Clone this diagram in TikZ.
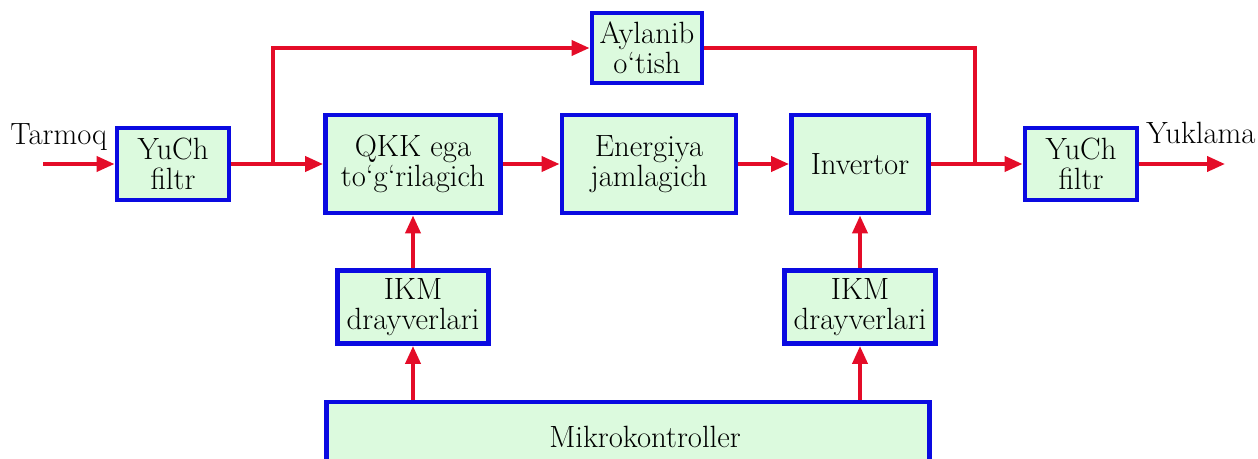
\documentclass[tikz,border=0pt]{standalone}
\usetikzlibrary{arrows.meta}

\definecolor{boxfill}{RGB}{220,250,222}
\definecolor{boxline}{RGB}{10,10,225}
\definecolor{wire}{RGB}{228,12,40}

\begin{document}
\begin{tikzpicture}[x=0.02cm, y=-0.02cm]
  \tikzstyle{block} = [rectangle, draw=boxline, line width=2.8pt, fill=boxfill, align=center, inner sep=0pt, font=\fontsize{17.5}{17}\selectfont]
  \tikzstyle{label} = [inner sep=0pt, font=\fontsize{17.5}{17}\selectfont]
  \tikzstyle{arrow} = [draw=wire, line width=2.2pt, -{Triangle[length=0.36cm, width=0.3cm]}]
  \tikzstyle{line} = [draw=wire, line width=2.2pt]

  \clip (0,0) rectangle (1258,459);

  % Power path
  \node [block, minimum width=2.24cm, minimum height=1.44cm] (yuch1) at (173,164) {YuCh\\filtr};
  \node [block, minimum width=3.5cm, minimum height=1.96cm] (qkk) at (413,164) {QKK ega\\to‘g‘rilagich};
  \node [block, minimum width=3.48cm, minimum height=1.96cm] (energ) at (649,164) {Energiya\\jamlagich};
  \node [block, minimum width=2.74cm, minimum height=1.96cm] (inv) at (860,164) {Invertor};
  \node [block, minimum width=2.24cm, minimum height=1.44cm] (yuch2) at (1081,164) {YuCh\\filtr};

  % Bypass
  \node [block, minimum width=2.2cm, minimum height=1.4cm] (ayl) at (647,48) {Aylanib\\o‘tish};

  % Control
  \node [block, minimum width=3.02cm, minimum height=1.46cm] (ikm1) at (413,307) {IKM\\drayverlari};
  \node [block, minimum width=3.02cm, minimum height=1.46cm] (ikm2) at (860,307) {IKM\\drayverlari};
  \node [block, minimum width=12.06cm, minimum height=2cm] (mcu) at (628,452) {};
  \node [label] (mcutext) at (645,437) {Mikrokontroller};

  % Input and output
  \node [label, anchor=base west] (tarmoq) at (10,145) {Tarmoq};
  \node [label, anchor=base west] (yuklama) at (1146,144) {Yuklama};
  \coordinate (in) at (43,164);
  \coordinate (out) at (1225,164);
  \coordinate (j1) at (273,164);
  \coordinate (j2) at (975,164);

  % Main arrows
  \draw [arrow] (in) -- (yuch1.west);
  \draw [arrow] (yuch1.east) -- (qkk.west);
  \draw [arrow] (qkk) -- (energ);
  \draw [arrow] (energ) -- (inv);
  \draw [arrow] (inv.east) -- (yuch2.west);
  \draw [arrow] (yuch2.east) -- (out);

  % Bypass arrows
  \draw [arrow] (j1) |- (ayl.west);
  \draw [line] (ayl.east) -| (j2);

  % Control arrows
  \draw [arrow] (mcu.north -| ikm1) -- (ikm1);
  \draw [arrow] (mcu.north -| ikm2) -- (ikm2);
  \draw [arrow] (ikm1) -- (qkk);
  \draw [arrow] (ikm2) -- (inv);
\end{tikzpicture}
\end{document}
